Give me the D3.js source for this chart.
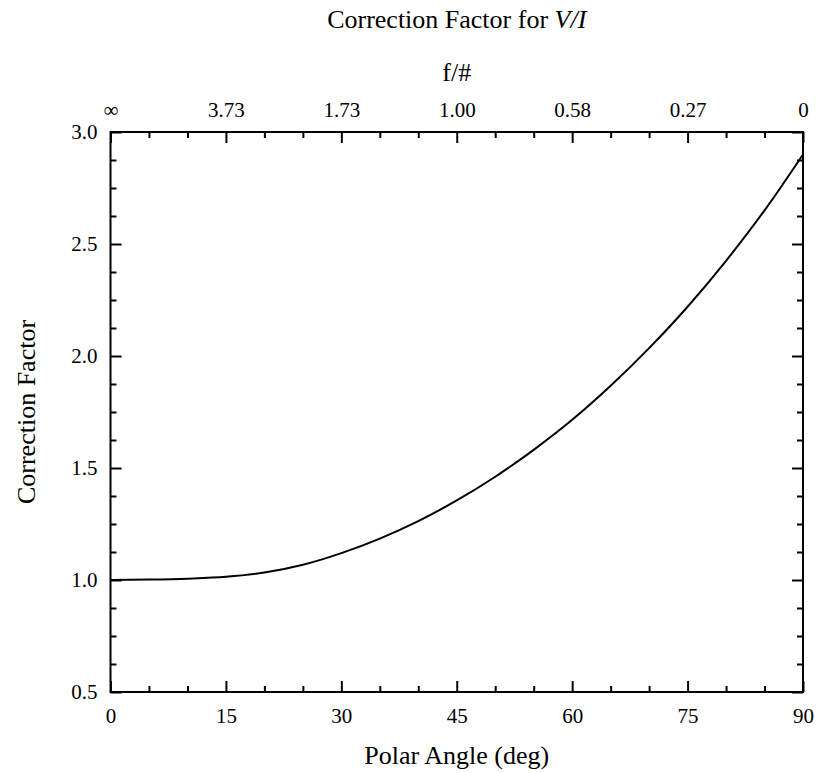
<!DOCTYPE html>
<html>
<head>
<meta charset="utf-8">
<script src="https://cdn.jsdelivr.net/npm/d3@7"></script>
<style>
  body { margin: 0; background: #fff; }
  svg { font-family: "Liberation Serif", "Times New Roman", serif; }
  .tick text { font-family: "Liberation Serif", "Times New Roman", serif; font-size: 21px; fill: #000; }
  .tick line { stroke: #000; stroke-width: 2; }
  .domain { display: none; }
</style>
</head>
<body>
<svg width="819" height="773"></svg>
<script>
// polar angle (deg) and correction factor
const angles = [0, 5, 10, 15, 20, 25, 30, 35, 40, 45, 50, 55, 60, 65, 70, 75, 80, 85, 90];
const factors = [1.000, 1.002, 1.006, 1.014, 1.033, 1.068, 1.120, 1.185, 1.263, 1.355, 1.461, 1.581, 1.715, 1.867, 2.035, 2.220, 2.425, 2.650, 2.900];

const xTicks = [0, 15, 30, 45, 60, 75, 90];
const fNumberLabels = ['\u221E', '3.73', '1.73', '1.00', '0.58', '0.27', '0'];
const yTicks = [0.5, 1.0, 1.5, 2.0, 2.5, 3.0];

const margin = {top: 132, right: 16, bottom: 81, left: 110.5};
const width = 819 - margin.left - margin.right;
const height = 773 - margin.top - margin.bottom;

const x = d3.scaleLinear().domain([0, 90]).range([0, width]);
const y = d3.scaleLinear().domain([0.5, 3.0]).range([height, 0]);

const svg = d3.select('svg');
const chart = svg.append('g').attr('transform', `translate(${margin.left},${margin.top})`);

const xMinor = d3.range(0, 90.01, 5).filter(v => v % 15 !== 0);
const yMinor = d3.range(0.5, 3.001, 0.125).filter(v => Math.abs(v * 2 - Math.round(v * 2)) > 1e-6);

function addAxis(axis, transform) {
  const g = chart.append('g').call(axis).attr('font-family', null).attr('font-size', null);
  if (transform) g.attr('transform', transform);
  return g;
}

// bottom
addAxis(d3.axisBottom(x).tickValues(xTicks).tickSize(-11).tickPadding(16).tickFormat(d3.format('d')),
  `translate(0,${height})`);
addAxis(d3.axisBottom(x).tickValues(xMinor).tickSize(-6).tickFormat(''), `translate(0,${height})`);

// top (f/#)
addAxis(d3.axisTop(x).tickValues(xTicks).tickSize(-11).tickPadding(15)
  .tickFormat((d, i) => fNumberLabels[i]));
addAxis(d3.axisTop(x).tickValues(xMinor).tickSize(-6).tickFormat(''));

// left
addAxis(d3.axisLeft(y).tickValues(yTicks).tickSize(-11).tickPadding(13).tickFormat(d3.format('.1f')));
addAxis(d3.axisLeft(y).tickValues(yMinor).tickSize(-6).tickFormat(''));

// right
addAxis(d3.axisRight(y).tickValues(yTicks).tickSize(-11).tickFormat(''), `translate(${width},0)`);
addAxis(d3.axisRight(y).tickValues(yMinor).tickSize(-6).tickFormat(''), `translate(${width},0)`);

chart.append('rect')
  .attr('width', width).attr('height', height)
  .attr('fill', 'none').attr('stroke', '#000').attr('stroke-width', 2);

const line = d3.line()
  .x((d, i) => x(angles[i]))
  .y(d => y(d))
  .curve(d3.curveMonotoneX);

chart.append('path')
  .datum(factors)
  .attr('d', line)
  .attr('fill', 'none')
  .attr('stroke', '#000')
  .attr('stroke-width', 2);

// titles
const title = svg.append('text')
  .attr('x', margin.left + width / 2).attr('y', 28)
  .attr('text-anchor', 'middle').attr('font-size', 26);
title.append('tspan').text('Correction Factor for ');
title.append('tspan').attr('font-style', 'italic').text('V/I');

svg.append('text')
  .attr('x', margin.left + width / 2).attr('y', 81)
  .attr('text-anchor', 'middle').attr('font-size', 26)
  .text('f/#');

svg.append('text')
  .attr('x', margin.left + width / 2).attr('y', 764)
  .attr('text-anchor', 'middle').attr('font-size', 26)
  .text('Polar Angle (deg)');

svg.append('text')
  .attr('transform', `translate(35,${margin.top + height / 2}) rotate(-90)`)
  .attr('text-anchor', 'middle').attr('font-size', 26)
  .text('Correction Factor');
</script>
</body>
</html>
